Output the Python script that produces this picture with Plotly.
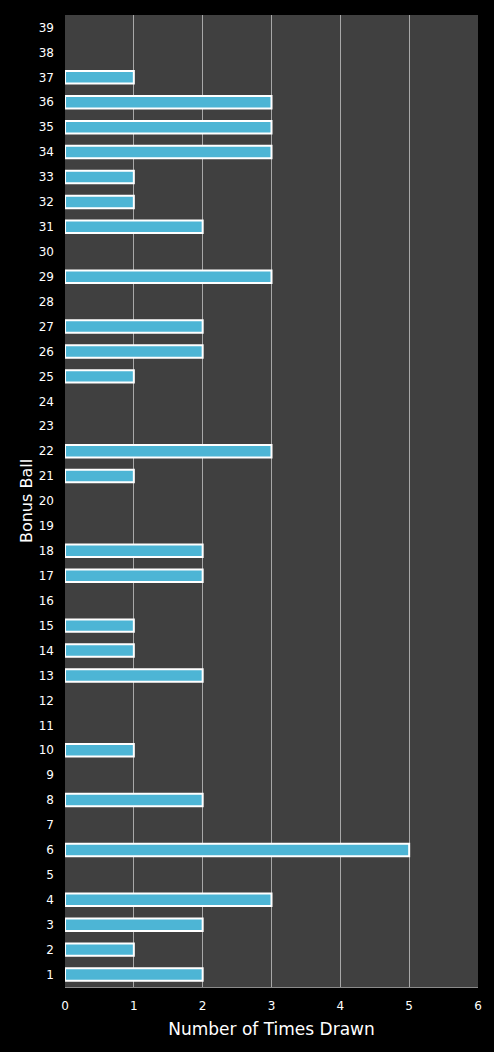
import plotly.graph_objects as go

# bonus ball numbers and how often each one came up
balls = [str(n) for n in range(1, 40)]
times_drawn = [2, 1, 2, 3, 0, 5, 0, 2, 0, 1,
               0, 0, 2, 1, 1, 0, 2, 2, 0, 0,
               1, 3, 0, 0, 1, 2, 2, 0, 3, 0,
               2, 1, 1, 3, 3, 3, 1, 0, 0]
x_ticks = [0, 1, 2, 3, 4, 5, 6]

# no outline on the empty bars, otherwise a white sliver shows at 0
outline = [2 if v > 0 else 0 for v in times_drawn]

fig = go.Figure()
fig.add_trace(go.Bar(
    x=times_drawn,
    y=balls,
    orientation='h',
    marker=dict(color='#4db5d5', line=dict(color='#ffffff', width=outline)),
))

fig.update_layout(
    width=494,
    height=1052,
    paper_bgcolor='#000000',
    plot_bgcolor='#404040',
    margin=dict(l=65, r=16, t=15, b=65),
    bargap=0.5,
    showlegend=False,
    font=dict(family='DejaVu Sans', color='#ffffff', size=12),
)
fig.update_xaxes(
    range=[0, 6],
    tickvals=x_ticks,
    showgrid=True,
    gridcolor='#a8a8a8',
    gridwidth=1,
    zeroline=False,
    showline=True,
    linecolor='#8a8a8a',
    ticks='',
    ticklabelstandoff=8,
    title=dict(text='Number of Times Drawn', font=dict(size=17), standoff=10),
)
fig.update_yaxes(
    type='category',
    categoryorder='array',
    categoryarray=balls,
    showgrid=False,
    showline=False,
    ticks='',
    ticklabelstandoff=10,
    title=dict(text='Bonus Ball', font=dict(size=16), standoff=2),
)

# the browser adds an 8px body margin by default, drop it
fig.write_html("out.html",
               config={'displayModeBar': False},
               post_script="document.body.style.margin='0';document.body.style.background='#000';")
